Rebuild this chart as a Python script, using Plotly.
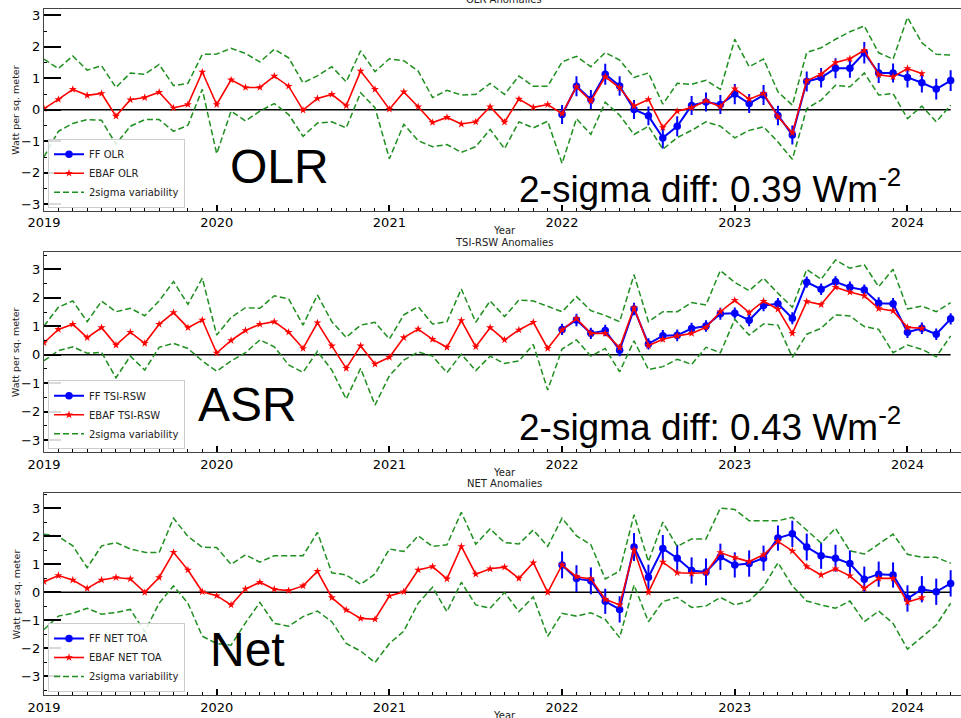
import plotly.graph_objects as go
from plotly.subplots import make_subplots

# ---------------- data (monthly anomalies, W m-2) ----------------
start_year = 2019
n_months = 64                      # Jan 2019 .. Apr 2024
ff_start = 36                      # FF record begins Jan 2022
months = [start_year + m / 12 for m in range(n_months)]

year_ticks = [2019, 2020, 2021, 2022, 2023, 2024]
y_ticks = [-3, -2, -1, 0, 1, 2, 3]

olr_ebaf = [0.04, 0.33, 0.65, 0.46, 0.52, -0.20, 0.32, 0.39, 0.56, 0.06, 0.17, 1.20,
            0.17, 0.95, 0.71, 0.71, 1.07, 0.75, -0.01, 0.36, 0.49, 0.13, 1.23, 0.65,
            0.02, 0.57, 0.10, -0.40, -0.24, -0.45, -0.38, 0.10, -0.39, 0.34, 0.08, 0.17,
            -0.12, 0.73, 0.28, 1.05, 0.70, 0.12, 0.33, -0.56, -0.04, 0.07, 0.29, 0.10,
            0.67, 0.34, 0.52, -0.22, -0.73, 0.92, 1.13, 1.50, 1.62, 1.89, 1.11, 1.05,
            1.31, 1.15]
olr_ff = [-0.15, 0.75, 0.33, 1.13, 0.76, 0.01, -0.19, -0.89, -0.52, 0.14, 0.25, 0.17,
          0.50, 0.20, 0.47, -0.18, -0.80, 0.90, 1.02, 1.32, 1.32, 1.81, 1.17, 1.17,
          1.03, 0.86, 0.66, 0.93]
olr_ff_err = [0.30, 0.32, 0.30, 0.33, 0.31, 0.30, 0.30, 0.34, 0.32, 0.30, 0.30, 0.30,
              0.32, 0.30, 0.32, 0.31, 0.30, 0.32, 0.31, 0.32, 0.30, 0.34, 0.32, 0.30,
              0.32, 0.31, 0.33, 0.33]
olr_sig_hi = [1.61, 1.31, 1.71, 1.26, 1.40, 0.71, 1.17, 1.13, 1.44, 0.77, 0.84, 1.76,
              1.77, 1.95, 1.79, 1.52, 1.92, 1.65, 0.86, 1.08, 1.37, 0.89, 1.87, 1.21,
              1.62, 1.56, 1.23, 0.39, 0.62, 0.47, 0.49, 0.84, 0.49, 1.07, 0.75, 0.75,
              1.52, 1.70, 1.37, 1.82, 1.58, 1.03, 1.17, 0.18, 0.84, 0.81, 0.94, 0.65,
              2.24, 1.37, 1.61, 0.57, 0.15, 1.82, 1.97, 2.24, 2.48, 2.66, 1.81, 1.61,
              2.93, 2.13, 1.76, 1.74]
olr_sig_lo = [-1.49, -0.68, -0.43, -0.31, -0.33, -1.09, -0.52, -0.31, -0.31, -0.68, -0.49, 0.65,
              -1.39, -0.04, -0.35, -0.04, 0.20, -0.15, -0.84, -0.42, -0.38, -0.57, 0.54, 0.07,
              -1.55, -0.46, -0.98, -1.17, -1.10, -1.35, -1.17, -0.62, -1.23, -0.38, -0.57, -0.36,
              -1.70, -0.28, -0.78, 0.24, -0.17, -0.78, -0.52, -1.25, -0.88, -0.65, -0.38, -0.52,
              -0.89, -0.65, -0.54, -1.02, -1.57, 0.04, 0.31, 0.78, 0.73, 1.17, 0.47, 0.52,
              -0.28, 0.12, -0.38, 0.15]

asr_ebaf = [0.42, 0.89, 1.07, 0.60, 0.95, 0.34, 0.79, 0.40, 1.07, 1.48, 0.95, 1.22,
            0.06, 0.50, 0.85, 1.07, 1.16, 0.79, 0.22, 1.12, 0.31, -0.48, 0.31, -0.33,
            -0.09, 0.60, 0.90, 0.54, 0.26, 1.20, 0.28, 0.95, 0.52, 0.87, 1.14, 0.22,
            0.87, 1.27, 0.75, 0.75, 0.25, 1.65, 0.32, 0.54, 0.66, 0.75, 0.96, 1.51,
            1.91, 1.48, 1.88, 1.60, 0.75, 1.87, 1.76, 2.37, 2.20, 2.07, 1.62, 1.54,
            0.96, 0.93]
asr_ff = [0.89, 1.22, 0.75, 0.85, 0.16, 1.61, 0.38, 0.67, 0.68, 0.92, 1.01, 1.44,
          1.46, 1.21, 1.73, 1.79, 1.28, 2.55, 2.30, 2.56, 2.37, 2.27, 1.81, 1.79,
          0.79, 0.93, 0.72, 1.26]
asr_ff_err = [0.20, 0.22, 0.20, 0.20, 0.21, 0.22, 0.20, 0.20, 0.21, 0.20, 0.20, 0.21,
              0.20, 0.21, 0.20, 0.20, 0.21, 0.20, 0.20, 0.20, 0.20, 0.20, 0.21, 0.20,
              0.20, 0.20, 0.20, 0.20]
asr_sig_hi = [1.01, 1.67, 1.89, 1.16, 1.88, 1.51, 1.63, 1.37, 1.89, 2.57, 1.77, 2.69,
              0.69, 1.31, 1.65, 1.63, 2.07, 1.96, 1.04, 2.10, 1.16, 0.61, 1.04, 1.14,
              0.55, 1.40, 1.69, 1.08, 1.16, 2.31, 1.14, 1.89, 1.34, 1.92, 1.89, 1.69,
              1.51, 2.04, 1.55, 1.38, 1.16, 2.81, 1.16, 1.51, 1.51, 1.83, 1.75, 2.96,
              2.54, 2.25, 2.69, 2.16, 1.67, 3.00, 2.65, 3.33, 3.04, 3.16, 2.39, 3.00,
              1.61, 1.71, 1.51, 1.83]
asr_sig_lo = [-0.21, 0.14, 0.28, 0.05, 0.08, -0.81, -0.05, -0.54, 0.26, 0.40, 0.22, -0.22,
              -0.58, -0.22, 0.07, 0.52, 0.28, -0.36, -0.62, 0.12, -0.54, -1.56, -0.48, -1.77,
              -0.74, -0.19, 0.10, -0.05, -0.63, 0.02, -0.56, -0.05, -0.31, -0.22, 0.36, -1.24,
              0.20, 0.52, -0.05, 0.22, -0.60, 0.49, -0.52, -0.42, -0.16, -0.34, 0.26, 0.07,
              1.24, 0.69, 1.08, 1.04, -0.09, 0.72, 0.93, 1.40, 1.36, 0.99, 0.89, 0.07,
              0.34, 0.19, -0.07, 0.66]

net_ebaf = [0.38, 0.60, 0.44, 0.14, 0.44, 0.53, 0.48, 0.00, 0.53, 1.43, 0.80, 0.02,
            -0.12, -0.45, 0.12, 0.36, 0.11, 0.06, 0.23, 0.75, -0.19, -0.63, -0.93, -0.96,
            -0.13, 0.02, 0.80, 0.92, 0.48, 1.64, 0.65, 0.84, 0.90, 0.50, 1.06, 0.00,
            0.98, 0.56, 0.48, -0.25, -0.45, 1.52, 0.00, 1.08, 0.70, 0.68, 0.70, 1.42,
            1.24, 1.10, 1.34, 1.82, 1.48, 0.92, 0.62, 0.84, 0.59, 0.14, 0.50, 0.50,
            -0.35, -0.19]
net_ff = [0.98, 0.49, 0.41, -0.32, -0.61, 1.62, 0.54, 1.57, 1.22, 0.78, 0.73, 1.27,
          0.98, 1.03, 1.22, 1.94, 2.09, 1.62, 1.31, 1.22, 1.03, 0.47, 0.65, 0.62,
          -0.22, 0.11, 0.02, 0.32]
net_ff_err = [0.48, 0.48, 0.48, 0.45, 0.47, 0.50, 0.45, 0.48, 0.48, 0.47, 0.48, 0.47,
              0.45, 0.47, 0.45, 0.45, 0.47, 0.48, 0.47, 0.48, 0.47, 0.45, 0.45, 0.45,
              0.47, 0.47, 0.47, 0.47]
net_sig_hi = [2.08, 2.00, 1.66, 0.88, 1.66, 1.78, 1.55, 1.43, 1.42, 2.65, 2.00, 1.61,
              1.60, 1.00, 1.34, 1.08, 1.31, 1.31, 1.31, 2.14, 0.70, 0.62, 0.29, 0.65,
              1.55, 1.46, 2.02, 1.64, 1.70, 2.86, 1.72, 2.27, 1.78, 1.73, 2.23, 1.64,
              2.65, 2.02, 1.70, 0.48, 0.76, 2.77, 1.10, 2.51, 1.64, 1.91, 1.91, 3.01,
              2.96, 2.56, 2.56, 2.56, 2.68, 2.21, 1.76, 2.29, 1.48, 1.37, 1.72, 2.08,
              1.36, 1.25, 1.25, 1.04]
net_sig_lo = [-1.33, -0.85, -0.75, -0.57, -0.78, -0.72, -0.61, -1.41, -0.39, 0.23, -0.39, -1.57,
              -1.83, -1.89, -1.09, -0.36, -1.11, -1.21, -0.87, -0.67, -1.05, -1.83, -2.10, -2.51,
              -1.83, -1.39, -0.39, 0.18, -0.69, 0.36, -0.45, -0.57, 0.00, -0.69, -0.16, -1.57,
              -0.75, -0.85, -0.73, -0.97, -1.62, 0.26, -1.05, -0.33, -0.18, -0.54, -0.49, -0.18,
              -0.45, -0.31, 0.20, 1.06, 0.23, -0.31, -0.45, -0.57, -0.31, -1.05, -0.67, -1.11,
              -2.03, -1.61, -1.17, -0.39]

panels = [
    dict(title="OLR Anomalies", ff_name="FF OLR", ebaf_name="EBAF OLR",
         ebaf=olr_ebaf, ff=olr_ff, err=olr_ff_err, hi=olr_sig_hi, lo=olr_sig_lo,
         label="OLR", diff="2-sigma diff: 0.39 Wm<sup>-2</sup>", yrange=[-3.2, 3.2]),
    dict(title="TSI-RSW Anomalies", ff_name="FF TSI-RSW", ebaf_name="EBAF TSI-RSW",
         ebaf=asr_ebaf, ff=asr_ff, err=asr_ff_err, hi=asr_sig_hi, lo=asr_sig_lo,
         label="ASR", diff="2-sigma diff: 0.43 Wm<sup>-2</sup>", yrange=[-3.43, 3.62]),
    dict(title="NET Anomalies", ff_name="FF NET TOA", ebaf_name="EBAF NET TOA",
         ebaf=net_ebaf, ff=net_ff, err=net_ff_err, hi=net_sig_hi, lo=net_sig_lo,
         label="Net", diff=None, yrange=[-3.67, 3.54]),
]

# ---------------- layout geometry (pixels of a 961 x 718 page) ----------------
W, H = 961, 718
LEFT = 44
BANDS = [(9, 210.7), (251.7, 452.3), (493.3, 695)]   # (top, bottom) of each axes box
LABEL_X = [184, 152, 164]                            # big caption left edges
LABEL_Y = [0.22, 0.24, 0.225]                        # big caption centres (axes fraction)
DIFF_Y = [0.12, 0.14]


def px(x):
    return x / W


def py(y):
    return 1 - y / H


TICK_FONT = dict(family="DejaVu Sans", size=13, color="black")
SMALL_FONT = dict(family="DejaVu Sans", size=10, color="#222222")
BIG_FONT = "Liberation Sans, Arial, sans-serif"
GREEN = "#1f8f1f"

fig = make_subplots(rows=3, cols=1)

annotations = []
shapes = []
for i, p in enumerate(panels):
    row = i + 1
    leg = "legend" if i == 0 else f"legend{i + 1}"
    xs_ebaf = months[:len(p["ebaf"])]
    xs_ff = months[ff_start:ff_start + len(p["ff"])]

    fig.add_trace(go.Scatter(
        x=xs_ff, y=p["ff"], name=p["ff_name"], mode="lines+markers",
        line=dict(color="blue", width=2),
        marker=dict(symbol="circle", size=7.5, color="blue"),
        error_y=dict(type="data", array=p["err"], color="blue", thickness=2, width=0),
        legend=leg), row=row, col=1)
    fig.add_trace(go.Scatter(
        x=xs_ebaf, y=p["ebaf"], name=p["ebaf_name"], mode="lines+markers",
        line=dict(color="red", width=1.6),
        marker=dict(symbol="star", size=6, color="red"),
        legend=leg), row=row, col=1)
    fig.add_trace(go.Scatter(
        x=months, y=p["hi"], name="2sigma variability", mode="lines",
        line=dict(color=GREEN, width=1.5, dash="6px,3px"),
        legend=leg), row=row, col=1)
    fig.add_trace(go.Scatter(
        x=months, y=p["lo"], name="2sigma variability", mode="lines",
        line=dict(color=GREEN, width=1.5, dash="6px,3px"),
        showlegend=False, legend=leg), row=row, col=1)

    top, bot = BANDS[i]
    xa = "xaxis" if i == 0 else f"xaxis{i + 1}"
    ya = "yaxis" if i == 0 else f"yaxis{i + 1}"
    xref = "x" if i == 0 else f"x{i + 1}"
    yref = "y" if i == 0 else f"y{i + 1}"

    fig.layout[xa].update(
        domain=[px(LEFT), 1.0], range=[start_year, 2024.31],
        tickmode="array", tickvals=year_ticks, ticktext=[str(t) for t in year_ticks],
        ticks="inside", ticklen=6, tickwidth=1.5, tickcolor="black",
        minor=dict(ticks="inside", ticklen=3, tickwidth=1, tickcolor="black",
                   dtick=1 / 12, tick0=start_year, showgrid=False),
        showline=True, mirror=True, linecolor="#444444", linewidth=1.3,
        showgrid=False, zeroline=False, tickfont=TICK_FONT, automargin=False)
    fig.layout[ya].update(
        domain=[py(bot), py(top)], range=p["yrange"],
        tickmode="array", tickvals=y_ticks,
        ticks="inside", ticklen=17, tickwidth=2, tickcolor="black",
        minor=dict(ticks="inside", ticklen=3, tickwidth=1, tickcolor="black",
                   dtick=0.5, tick0=0, showgrid=False),
        showline=True, mirror=False, linecolor="#444444", linewidth=1.3,
        showgrid=False, zeroline=False, tickfont=TICK_FONT, automargin=False)

    # zero reference line over the span of the record
    shapes.append(dict(type="line", xref=xref, yref=yref,
                       x0=months[0], x1=months[-1], y0=0, y1=0,
                       line=dict(color="black", width=1.5), layer="below"))

    # panel title, x label and y label
    annotations.append(dict(text=p["title"], xref="paper", yref="paper",
                            x=px(504), y=py(top - 2), xanchor="center", yanchor="bottom",
                            showarrow=False, font=SMALL_FONT))
    annotations.append(dict(text="Year", xref="paper", yref="paper",
                            x=px(504), y=py(bot + 20), xanchor="center", yanchor="middle",
                            showarrow=False, font=SMALL_FONT))
    annotations.append(dict(text="Watt per sq. meter", xref="paper", yref="paper",
                            x=px(16), y=py((top + bot) / 2), textangle=-90,
                            xanchor="center", yanchor="middle", showarrow=False,
                            font=dict(family="DejaVu Sans", size=9.5, color="#222222")))

    # large in-panel captions
    annotations.append(dict(text=p["label"], xref="x domain", yref=f"{yref} domain",
                            x=LABEL_X[i] / (W - LEFT), y=LABEL_Y[i],
                            xanchor="left", yanchor="middle", showarrow=False,
                            font=dict(family=BIG_FONT, size=48, color="black")))
    if p["diff"]:
        annotations.append(dict(text=p["diff"], xref="x domain", yref=f"{yref} domain",
                                x=(517 - LEFT) / (W - LEFT), y=DIFF_Y[i],
                                xanchor="left", yanchor="middle", showarrow=False,
                                font=dict(family=BIG_FONT, size=37, color="black")))

legend_style = dict(font=SMALL_FONT, bgcolor="rgba(255,255,255,0.85)",
                    bordercolor="#cccccc", borderwidth=1, itemwidth=30,
                    xanchor="left", yanchor="bottom", tracegroupgap=0)
fig.update_layout(
    width=W, height=H, margin=dict(l=0, r=0, t=0, b=0),
    paper_bgcolor="white", plot_bgcolor="white",
    annotations=annotations, shapes=shapes,
    legend=dict(x=px(48), y=py(BANDS[0][1] - 3), **legend_style),
    legend2=dict(x=px(48), y=py(BANDS[1][1] - 3), **legend_style),
    legend3=dict(x=px(48), y=py(BANDS[2][1] - 3), **legend_style),
)

fig.write_html("out.html")
